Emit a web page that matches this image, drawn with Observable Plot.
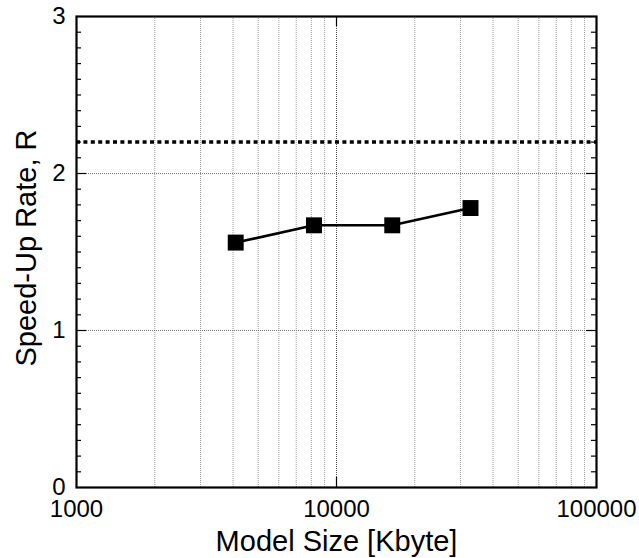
<!DOCTYPE html>
<html>
<head>
<meta charset="utf-8">
<script src="https://cdn.jsdelivr.net/npm/d3@7"></script>
<script src="https://cdn.jsdelivr.net/npm/@observablehq/plot@0.6"></script>
<style>
  html, body { margin: 0; padding: 0; background: #fff; }
  #chart svg { display: block; }
</style>
</head>
<body>
<div id="chart"></div>
<script>
// Data
const modelSize = [4096, 8192, 16384, 32768];       // Kbyte
const speedUp = [1.56, 1.67, 1.67, 1.78];           // R
const referenceRate = [2.2];                         // dotted reference line

// Axis ticks
const xTickValues = [1000, 10000, 100000];
const xTickLabels = ["1000", "10000", "100000"];
const yTickValues = [0, 1, 2, 3];
const yTickLabels = ["0", "1", "2", "3"];
const xMinorGrid = [2000, 3000, 4000, 5000, 6000, 7000, 8000, 9000,
                    20000, 30000, 40000, 50000, 60000, 70000, 80000, 90000];
const xMajorGrid = [10000];
const yGrid = [1, 2];
const yMinorTicks = [0.1,0.2,0.3,0.4,0.5,0.6,0.7,0.8,0.9,
                     1.1,1.2,1.3,1.4,1.5,1.6,1.7,1.8,1.9,
                     2.1,2.2,2.3,2.4,2.5,2.6,2.7,2.8,2.9];
const yMajorTicks = [1, 2];

const xLabel = "Model Size [Kbyte]";
const yLabel = "Speed-Up Rate, R";

const points = modelSize.map((x, i) => ({x, y: speedUp[i]}));

const W = 639, H = 558;
const mL = 76, mR = 43, mT = 16, mB = 71;
const pw = W - mL - mR, ph = H - mT - mB;

const chart = Plot.plot({
  width: W,
  height: H,
  marginLeft: mL,
  marginRight: mR,
  marginTop: mT,
  marginBottom: mB,
  style: {fontFamily: "'Liberation Sans', Arial, Helvetica, sans-serif", background: "#fff", color: "#000"},
  x: {type: "log", domain: [1000, 100000]},
  y: {domain: [0, 3]},
  marks: [
    // grid
    Plot.ruleX(xMinorGrid, {stroke: "#9a9a9a", strokeWidth: 1, strokeDasharray: "1,1"}),
    Plot.ruleX(xMajorGrid, {stroke: "#555", strokeWidth: 1, strokeDasharray: "1,1"}),
    Plot.ruleY(yGrid, {stroke: "#777", strokeWidth: 1, strokeDasharray: "1,1"}),
    // dotted reference line
    Plot.ruleY(referenceRate, {stroke: "#000", strokeWidth: 3.5, strokeDasharray: "4,3.4"}),
    // inward ticks on left and right
    Plot.tickY(yMinorTicks, {stroke: "#000", strokeWidth: 1.2, insetRight: pw - 5}),
    Plot.tickY(yMinorTicks, {stroke: "#000", strokeWidth: 1.2, insetLeft: pw - 5}),
    Plot.tickY(yMajorTicks, {stroke: "#000", strokeWidth: 1.2, insetRight: pw - 10}),
    Plot.tickY(yMajorTicks, {stroke: "#000", strokeWidth: 1.2, insetLeft: pw - 10}),
    Plot.tickX(xMajorGrid, {stroke: "#000", strokeWidth: 1.2, insetBottom: ph - 10}),
    Plot.tickX(xMajorGrid, {stroke: "#000", strokeWidth: 1.2, insetTop: ph - 10}),
    // frame
    Plot.frame({stroke: "#000", strokeWidth: 2.2}),
    // axes labels
    Plot.axisX(xTickValues, {
      anchor: "bottom", tickSize: 0, tickPadding: 12, fontSize: 24,
      tickFormat: (d) => xTickLabels[xTickValues.indexOf(d)], label: null
    }),
    Plot.axisY(yTickValues, {
      anchor: "left", tickSize: 0, tickPadding: 11, fontSize: 24,
      tickFormat: (d) => yTickLabels[yTickValues.indexOf(d)], label: null
    }),
    // series
    Plot.line(points, {x: "x", y: "y", stroke: "#000", strokeWidth: 2.6}),
    Plot.dot(points, {x: "x", y: "y", symbol: "square", r: 9, fill: "#000", stroke: "none"}),
    // axis titles
    Plot.text([xLabel], {frameAnchor: "bottom", dy: 54, fontSize: 29, lineAnchor: "middle", textAnchor: "middle", fill: "#000"}),
    Plot.text([yLabel], {frameAnchor: "left", dx: -50, dy: -4, rotate: -90, fontSize: 29, lineAnchor: "middle", textAnchor: "middle", fill: "#000"})
  ]
});

document.getElementById("chart").appendChild(chart);
</script>
</body>
</html>
